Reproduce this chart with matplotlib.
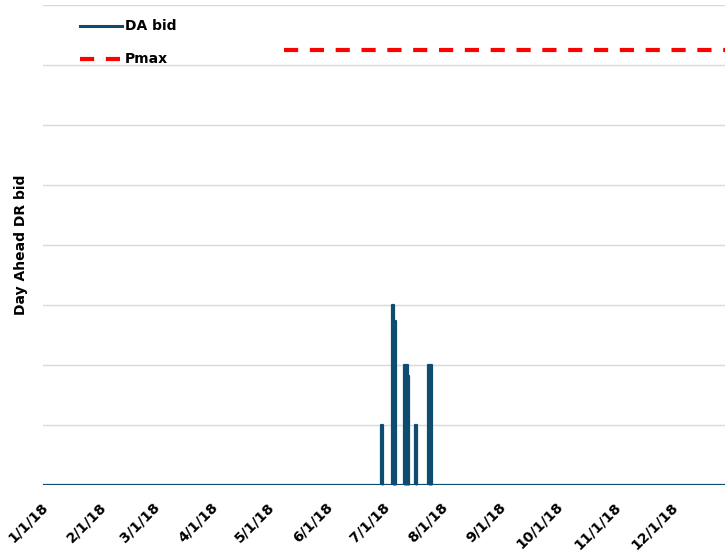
import numpy as np
import pandas as pd
import matplotlib.pyplot as plt
from matplotlib.transforms import ScaledTranslation

# daily day-ahead bids; zero everywhere except the dispatch days below
bid_days = ['2018-06-30', '2018-07-06', '2018-07-07', '2018-07-12', '2018-07-13',
            '2018-07-14', '2018-07-18', '2018-07-25', '2018-07-26']
bid_values = [1.0, 3.0, 2.73, 2.0, 2.0, 1.82, 1.0, 2.0, 2.0]

pmax_start = '2018-05-09'
pmax_end = '2018-12-31'
pmax_value = 7.25

year_days = pd.date_range('2018-01-01', '2018-12-31', freq='D')
month_ticks = pd.date_range('2018-01-01', '2018-12-01', freq='MS')

bid = pd.Series(0.0, index=year_days)
bid.loc[pd.to_datetime(bid_days)] = bid_values

fig = plt.figure(figsize=(7.25, 5.55), dpi=100)
ax = fig.add_axes([0.0593, 0.126, 0.9407, 0.865])

bid_color = '#0f4d70'
pmax_color = '#ff0000'
pmax_style = (0, (3.4, 2.8))
ax.fill_between(bid.index, 0, bid.values, step='mid', color=bid_color, lw=0, zorder=3)
ax.plot(bid.index, bid.values, color=bid_color, lw=1.6, drawstyle='steps-mid', zorder=3)
ax.plot(pd.to_datetime([pmax_start, pmax_end]), [pmax_value, pmax_value],
        color=pmax_color, lw=3, linestyle=pmax_style, zorder=3)

ax.set_ylim(0, 8)
ax.set_xlim(pd.Timestamp('2018-01-01'), pd.Timestamp('2018-12-29'))
ax.set_yticks(np.arange(0, 9))
ax.yaxis.grid(True, color='#d9d9d9', lw=1)
ax.set_axisbelow(True)
ax.tick_params(axis='y', left=False, labelleft=False)
ax.tick_params(axis='x', length=0, pad=14)
for s in ax.spines.values():
    s.set_visible(False)

ax.set_xticks(month_ticks)
ax.set_xticklabels([f'{d.month}/{d.day}/{d.strftime("%y")}' for d in month_ticks],
                   rotation=45, ha='right', va='center', rotation_mode='anchor',
                   fontsize=10.2, fontweight='bold')
nudge = ScaledTranslation(3 / 100, 0, fig.dpi_scale_trans)
for lbl in ax.get_xticklabels():
    lbl.set_transform(lbl.get_transform() + nudge)

ax.set_ylabel('Day Ahead DR bid', fontsize=10, fontweight='bold', labelpad=11)

# hand-drawn legend in axes coordinates (keeps the dash gaps in the Pmax key)
key_x = [0.054, 0.116]
ax.plot(key_x, [0.956, 0.956], color=bid_color, lw=2.2, transform=ax.transAxes,
        clip_on=False)
ax.plot(key_x, [0.887, 0.887], color=pmax_color, lw=3, linestyle=pmax_style,
        transform=ax.transAxes, clip_on=False)
ax.text(0.120, 0.956, 'DA bid', transform=ax.transAxes, va='center',
        fontsize=10, fontweight='bold')
ax.text(0.120, 0.887, 'Pmax', transform=ax.transAxes, va='center',
        fontsize=10, fontweight='bold')

fig.savefig('out.png', dpi=100)
